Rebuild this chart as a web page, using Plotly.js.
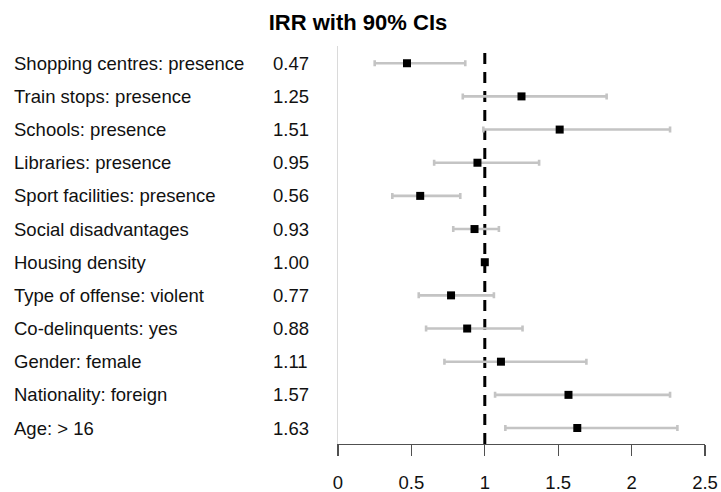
<!DOCTYPE html>
<html>
<head>
<meta charset="utf-8">
<script src="https://cdn.plot.ly/plotly-3.0.1.min.js"></script>
<style>
  html, body { margin: 0; padding: 0; background: #fff; }
  #chart { width: 721px; height: 492px; }
</style>
</head>
<body>
<div id="chart"></div>
<script>
// Incidence rate ratios with 90% confidence intervals, listed top to bottom
const predictors = [
  "Shopping centres: presence",
  "Train stops: presence",
  "Schools: presence",
  "Libraries: presence",
  "Sport facilities: presence",
  "Social disadvantages",
  "Housing density",
  "Type of offense: violent",
  "Co-delinquents: yes",
  "Gender: female",
  "Nationality: foreign",
  "Age: > 16"
];
const irr     = [0.47, 1.25, 1.51, 0.95, 0.56, 0.93, 1.00, 0.77, 0.88, 1.11, 1.57, 1.63];
const ciLower = [0.25, 0.85, 0.99, 0.655, 0.37, 0.785, 0.99, 0.55, 0.60, 0.725, 1.07, 1.14];
const ciUpper = [0.867, 1.83, 2.262, 1.37, 0.833, 1.096, 1.01, 1.062, 1.257, 1.692, 2.262, 2.312];
const xTicks  = [0, 0.5, 1, 1.5, 2, 2.5];
const refValue = 1;

// Row positions: first predictor at the top
const n = predictors.length;
const rowPos = predictors.map((_, i) => n - i);

const FONT = "Liberation Sans, Arial, sans-serif";
const W = 721;
const L = 338, R = 16;
const plotW = W - L - R;

const trace = {
  type: "scatter",
  mode: "markers",
  x: irr,
  y: rowPos,
  marker: { symbol: "square", size: 8, color: "#000" },
  error_x: {
    type: "data",
    symmetric: false,
    array: irr.map((v, i) => ciUpper[i] - v),
    arrayminus: irr.map((v, i) => v - ciLower[i]),
    color: "#c4c4c4",
    thickness: 2.6,
    width: 3
  },
  hoverinfo: "skip",
  showlegend: false
};

const annotations = [];
predictors.forEach((name, i) => {
  annotations.push({
    xref: "paper", yref: "y",
    x: (12 - L) / plotW, y: rowPos[i],
    xanchor: "left", yanchor: "middle",
    text: name, showarrow: false,
    font: { family: FONT, size: 18.5, color: "#111" }
  });
  annotations.push({
    xref: "paper", yref: "y",
    x: (271 - L) / plotW, y: rowPos[i],
    xanchor: "left", yanchor: "middle",
    text: irr[i].toFixed(2), showarrow: false,
    font: { family: FONT, size: 18.5, color: "#111" }
  });
});

const layout = {
  width: W,
  height: 492,
  margin: { l: L, r: R, t: 46, b: 48, pad: 0 },
  paper_bgcolor: "#fff",
  plot_bgcolor: "#fff",
  title: {
    text: "IRR with 90% CIs",
    xref: "container", x: 358 / W, xanchor: "center",
    yref: "container", y: 1 - 22 / 492, yanchor: "middle",
    font: { family: FONT, size: 22, weight: "bold", color: "#000" }
  },
  xaxis: {
    range: [0, 2.5],
    tickvals: xTicks,
    ticktext: xTicks.map(String),
    showgrid: false,
    zeroline: false,
    showline: true,
    linecolor: "#505050",
    linewidth: 1.4,
    ticks: "outside",
    ticklen: 11,
    tickwidth: 1.4,
    tickcolor: "#505050",
    ticklabelstandoff: 10,
    tickfont: { family: FONT, size: 18.5, color: "#111" },
    fixedrange: true
  },
  yaxis: {
    range: [0.518, n + 0.52],
    showgrid: false,
    zeroline: false,
    showticklabels: false,
    ticks: "",
    showline: true,
    linecolor: "#dadada",
    linewidth: 1.5,
    fixedrange: true
  },
  shapes: [{
    type: "line",
    xref: "x", yref: "y",
    x0: refValue, x1: refValue,
    y0: 0.518, y1: n + 0.31,
    line: { color: "#000", width: 3, dash: "11px,8px" },
    layer: "below"
  }],
  annotations: annotations
};

Plotly.newPlot("chart", [trace], layout, { displayModeBar: false, staticPlot: true });
</script>
</body>
</html>
